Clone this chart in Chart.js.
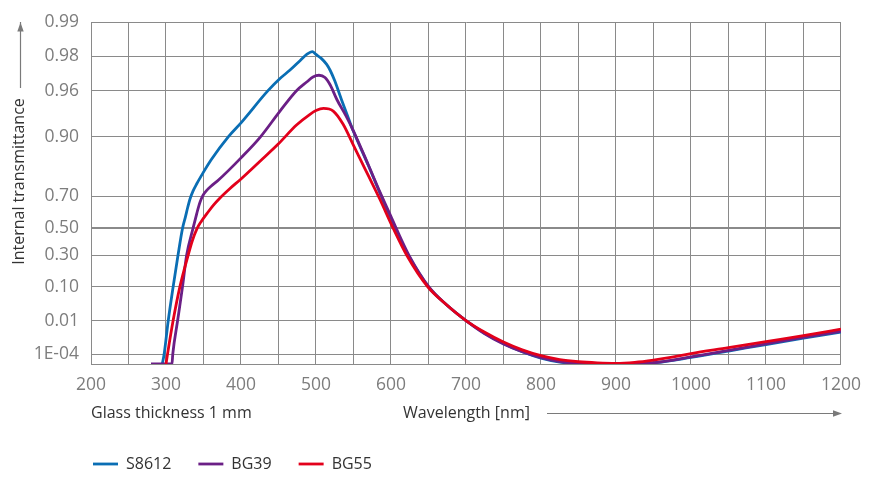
<!DOCTYPE html>
<html>
<head>
<meta charset="utf-8">
<script src="https://cdn.jsdelivr.net/npm/chart.js@4/dist/chart.umd.min.js"></script>
<style>
html,body{margin:0;padding:0;background:#fff;}
#wrap{width:872px;height:479px;}
</style>
</head>
<body>
<div id="wrap"><canvas id="c" width="872" height="479"></canvas></div>
<script>
// ---------- data ----------
const yTicks = [1e-4, 0.01, 0.10, 0.30, 0.50, 0.70, 0.90, 0.96, 0.98, 0.99];
const yTickLabels = ['1E-04', '0.01', '0.10', '0.30', '0.50', '0.70', '0.90', '0.96', '0.98', '0.99'];
const xLabelStep = 100;

const seriesNames = ['S8612', 'BG39', 'BG55'];

const s8612Wl = [295, 297.5, 303, 309.5, 316, 322, 326, 329, 332, 336, 341, 350, 360, 383, 400, 436, 452, 465, 479, 488, 495, 500, 507, 514, 519, 525, 534, 545, 550, 570, 587, 605, 623, 650, 674, 700, 725, 750, 775, 800, 825, 850, 875, 910, 950, 1000, 1050, 1100, 1150, 1200];
const s8612T  = [1.3e-5, 1e-4, 0.01, 0.10, 0.30, 0.50, 0.581, 0.6385, 0.685, 0.7247, 0.7582, 0.8044, 0.844, 0.90, 0.924, 0.96, 0.9687, 0.9735, 0.9783, 0.9809, 0.9819, 0.9808, 0.9792, 0.9766, 0.9734, 0.9672, 0.952, 0.9255, 0.910, 0.826, 0.70, 0.50, 0.30, 0.10, 0.0359, 0.01, 0.00253, 6.2e-4, 1.58e-4, 4.65e-5, 2.0e-5, 1.36e-5, 1.3e-5, 1.3e-5, 1.67e-5, 5.35e-5, 1.81e-4, 5.34e-4, 0.00135, 0.00295];

const bg39Wl = [280, 308, 309, 315.5, 322, 327.5, 336, 341, 344, 347, 350, 354, 360, 370, 400, 426, 452, 474, 488, 496, 504, 512, 519, 528, 540, 550, 570, 585, 600, 607, 624, 650.5, 674, 700, 725, 750, 775, 800, 825, 850, 875, 900, 925, 950, 1000, 1050, 1100, 1150, 1200];
const bg39T  = [1.3e-5, 1.3e-5, 1e-4, 0.01, 0.10, 0.30, 0.50, 0.600, 0.650, 0.685, 0.7078, 0.7271, 0.7474, 0.774, 0.850, 0.90, 0.9398, 0.96, 0.9666, 0.9697, 0.9707, 0.9693, 0.9643, 0.952, 0.9337, 0.9106, 0.8276, 0.7224, 0.581, 0.50, 0.30, 0.10, 0.036, 0.01, 0.00238, 5.77e-4, 1.58e-4, 5.14e-5, 2.25e-5, 1.45e-5, 1.3e-5, 1.3e-5, 1.36e-5, 1.73e-5, 6.0e-5, 2.04e-4, 5.95e-4, 0.0015, 0.0032];

const bg55Wl = [300, 302, 309.5, 318.5, 329.5, 335, 341.5, 347, 355, 363, 372, 385, 400, 425, 450, 474, 492, 500, 510, 523, 536, 550, 570, 585, 603, 621, 649, 674, 700, 725, 750, 775, 800, 825, 850, 875, 900, 925, 950, 975, 1000, 1050, 1100, 1150, 1200];
const bg55T  = [1.3e-5, 1e-4, 0.01, 0.10, 0.30, 0.408, 0.50, 0.5487, 0.6029, 0.6499, 0.6906, 0.7363, 0.7784, 0.8396, 0.8855, 0.9206, 0.9358, 0.9404, 0.9429, 0.9398, 0.9221, 0.882, 0.790, 0.685, 0.50, 0.30, 0.10, 0.0359, 0.01, 0.00285, 7.74e-4, 2.23e-4, 7.57e-5, 3.41e-5, 2.16e-5, 1.69e-5, 1.51e-5, 1.89e-5, 3.08e-5, 5.67e-5, 1.14e-4, 3.2e-4, 8.3e-4, 0.00186, 0.0041];

// ---------- styles ----------
const FONT = "'Open Sans', 'Noto Sans', sans-serif";
const colors = ['#0a6eb4', '#6b1f86', '#e3001b'];
const GRID = '#8a8a8a';

// ---------- diabatic (log-log) transmittance scale ----------
const dia = (t) => -Math.log10(-Math.log10(t));
const undia = (f) => Math.pow(10, -Math.pow(10, -f));

class DiabaticScale extends Chart.Scale {
  determineDataLimits() {
    this.min = this.options.min;
    this.max = this.options.max;
  }
  buildTicks() { return []; }
  configure() {
    super.configure();
    this._fMin = dia(this.min);
    this._fMax = dia(this.max);
  }
  getPixelForValue(v) {
    return this.getPixelForDecimal((dia(v) - this._fMin) / (this._fMax - this._fMin));
  }
  getValueForPixel(p) {
    const d = this.getDecimalForPixel(p);
    return undia(this._fMin + d * (this._fMax - this._fMin));
  }
  getLabelForValue(v) { return String(v); }
}
DiabaticScale.id = 'diabatic';
DiabaticScale.defaults = {};
Chart.register(DiabaticScale);

const toPoints = (wl, t) => wl.map((w, i) => ({x: w, y: t[i]}));
const seriesData = [toPoints(s8612Wl, s8612T), toPoints(bg39Wl, bg39T), toPoints(bg55Wl, bg55T)];

// ---------- decorations: axis titles and arrows, legend placement ----------
const decorations = {
  id: 'decorations',
  afterLayout(chart) {
    const lg = chart.legend;
    const pad = lg.options.labels.padding;
    const fs = 16;
    const w = lg.width, h = lg.height;
    lg.left = 93 - pad; lg.right = lg.left + w;
    lg.top = 464 - fs / 2 - pad; lg.bottom = lg.top + h;
  },
  afterDraw(chart) {
    const ctx = chart.ctx;
    const a = chart.chartArea;
    ctx.save();
    ctx.fillStyle = '#333';
    ctx.font = '16px ' + FONT;
    // y title
    ctx.save();
    ctx.translate(19, 181.5);
    ctx.rotate(-Math.PI / 2);
    ctx.textAlign = 'center';
    ctx.textBaseline = 'middle';
    ctx.fillText('Internal transmittance', 0, 0);
    ctx.restore();
    // y arrow
    ctx.strokeStyle = '#7a7a7a';
    ctx.fillStyle = '#7a7a7a';
    ctx.lineWidth = 1.2;
    ctx.beginPath();
    ctx.moveTo(20.5, 88); ctx.lineTo(20.5, 22);
    ctx.stroke();
    ctx.beginPath();
    ctx.moveTo(20.5, a.top); ctx.lineTo(17.3, a.top + 9); ctx.lineTo(23.7, a.top + 9); ctx.closePath();
    ctx.fill();
    // x titles
    ctx.fillStyle = '#333';
    ctx.textAlign = 'left';
    ctx.textBaseline = 'middle';
    ctx.fillText('Glass thickness 1 mm', a.left, 413);
    ctx.fillText('Wavelength [nm]', 403, 413);
    // x arrow
    ctx.strokeStyle = '#7a7a7a';
    ctx.fillStyle = '#7a7a7a';
    ctx.beginPath();
    ctx.moveTo(547, 413.5); ctx.lineTo(834, 413.5);
    ctx.stroke();
    ctx.beginPath();
    ctx.moveTo(a.right + 1, 413.5); ctx.lineTo(a.right - 8, 410.3); ctx.lineTo(a.right - 8, 416.7); ctx.closePath();
    ctx.fill();
    ctx.restore();
  }
};

new Chart(document.getElementById('c'), {
  type: 'line',
  data: {
    datasets: seriesNames.map((name, i) => ({
      label: name,
      data: seriesData[i],
      borderColor: colors[i],
      backgroundColor: colors[i],
      borderWidth: 2.8,
      pointRadius: 0,
      fill: false,
      cubicInterpolationMode: 'monotone',
      order: 2 - i
    }))
  },
  options: {
    responsive: false,
    animation: false,
    events: [],
    devicePixelRatio: 1,
    layout: { padding: { top: 14, right: 31, bottom: 0, left: 0 } },
    plugins: {
      tooltip: { enabled: false },
      title: { display: false },
      legend: {
        display: true,
        position: 'bottom',
        align: 'start',
        labels: {
          usePointStyle: true,
          pointStyle: 'line',
          pointStyleWidth: 25,
          padding: 27,
          color: '#333',
          font: { family: FONT, size: 16 },
          sort: (a, b) => a.datasetIndex - b.datasetIndex
        }
      }
    },
    scales: {
      x: {
        type: 'linear',
        min: 200,
        max: 1200,
        afterFit: (s) => { s.height = 62; },
        ticks: {
          stepSize: 50,
          maxTicksLimit: 40,
          autoSkip: false,
          maxRotation: 0,
          padding: 11,
          color: '#7d7d7d',
          font: { family: FONT, size: 17.5 },
          callback: (v) => (v % xLabelStep === 0 ? String(v) : '')
        },
        grid: { color: GRID, lineWidth: 1, drawTicks: false },
        border: { display: true, color: GRID, width: 1 }
      },
      y: {
        type: 'diabatic',
        min: 1.3e-5,
        max: 0.99,
        afterFit: (s) => { s.width = 91; },
        afterBuildTicks: (s) => { s.ticks = yTicks.map((v) => ({ value: v })); },
        ticks: {
          padding: 12,
          color: '#7d7d7d',
          font: { family: FONT, size: 17.5 },
          callback: (v) => yTickLabels[yTicks.indexOf(v)]
        },
        grid: {
          color: GRID,
          lineWidth: (c) => (c.tick && c.tick.value === 0.5 ? 2 : 1),
          drawTicks: false
        },
        border: { display: true, color: GRID, width: 1 }
      }
    }
  },
  plugins: [decorations]
});
</script>
</body>
</html>
